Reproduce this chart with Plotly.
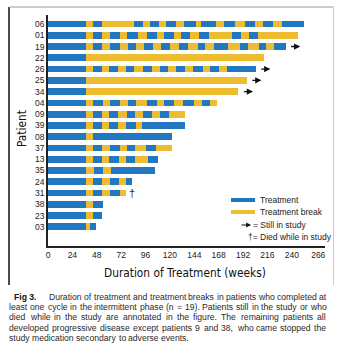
import plotly.graph_objects as go

# ---------------- data (weeks) ----------------
patients = ["06", "01", "19", "22", "26", "25", "34", "04", "09", "39",
            "08", "37", "13", "35", "24", "31", "38", "23", "03"]

# boundaries of alternating segments: treatment, break, treatment, ...
p06 = [0, 37, 44, 53, 84.4, 93.5, 100.1, 109.3, 116.4, 125.7, 133.9, 145.4, 150.6,
       165.1, 173.2, 184.4, 193.9, 204, 211.3, 221.5, 230, 252.3]
p01 = [0, 37, 44, 53, 61.3, 71.2, 77.8, 88.6, 97.4, 107.3, 114.2, 123.7, 130.9,
       139.8, 148.9, 158.2, 181.1, 190, 197.8, 206.4, 245.8]
p19 = [0, 37, 44, 53, 61, 70.6, 78.7, 86.6, 94.5, 103.6, 111.7, 120.1, 128.9, 138.1,
       147.3, 155, 163.4, 177.4, 188.6, 196.4, 207.7, 214.6, 222.4, 233.8]
p22 = [0, 37, 212.3]
p26 = [0, 37, 44, 53.4, 60.3, 69.2, 77.1, 84.9, 93.5, 102.7, 110.2, 118.4, 126.3,
       135.1, 142.5, 152.3, 159.4, 168.1, 175.9, 204.4]
p25 = [0, 37, 195.6]
p34 = [0, 37, 187.3]
p04 = [0, 37, 44, 53.8, 61.3, 71.2, 78.4, 86.3, 97.1, 107.6, 114.2, 123.7, 133.2,
       144, 151.3, 159.4, 166.1]
p09 = [0, 37, 44, 52.9, 60.3, 69.2, 77.8, 85.6, 93.2, 102.1, 110.2, 119.4, 134.6]
p39 = [0, 37, 44, 52.9, 60.3, 69.2, 77.1, 86.3, 92.2, 134.6]
p08 = [0, 37, 44.6, 121.8]
p37 = [0, 37, 44.6, 52.9, 60.7, 70.5, 77.7, 85.6, 96.2, 105.9, 121.6]
p13 = [0, 37, 44, 52.9, 60.3, 69.9, 76.8, 85.6, 98.7, 108.6]
p35 = [0, 37, 45.3, 54.4, 62, 105.3]
p24 = [0, 37, 44, 52.9, 60.7, 69.9, 77.1, 82.4]
p31 = [0, 37, 44.6, 52.9, 61.3, 70.6, 76.8]
p38 = [0, 37, 44.6, 53.8]
p23 = [0, 37, 44, 52.9]
p03 = [0, 37, 41.3, 47]
boundaries = [p06, p01, p19, p22, p26, p25, p34, p04, p09, p39,
              p08, p37, p13, p35, p24, p31, p38, p23, p03]

still_in_study = ["19", "26", "25", "34"]
died_in_study = ["31"]

x_tickvals = [0, 24, 48, 72, 96, 120, 144, 168, 192, 216, 240, 266]

caption_lines = [
    "least one cycle in the intermittent phase (n = 19). Patients still in the study or who",
    "died while in the study are annotated in the figure. The remaining patients all",
    "developed progressive disease except patients 9 and 38, who came stopped the",
    "study medication secondary to adverse events.",
]
caption_first = "Duration of treatment and treatment breaks in patients who completed at"

# ---------------- style ----------------
BLUE = "#2178C1"
YELLOW = "#EDBD2F"
W, H = 338, 353
L, R, T, B = 48, 325, 15, 246
PXW = 1.016  # px per week
FONT = "Liberation Sans, Arial, Helvetica, sans-serif"
NARROW = "DejaVu Sans Condensed, Liberation Sans Narrow, Arial Narrow, sans-serif"


def px(x):
    return (x - L) / (R - L)


def py(y):
    return (B - y) / (B - T)


def ptext(x, y, text, font, xanchor="left", **kw):
    d = dict(x=px(x), y=py(y), xref="paper", yref="paper", showarrow=False,
             xanchor=xanchor, yanchor="middle", text=text, font=font, borderpad=0)
    d.update(kw)
    return d


# ---------------- bars ----------------
tb = dict(y=[], base=[], x=[])
bb = dict(y=[], base=[], x=[])
for i, bounds in enumerate(boundaries):
    for k in range(len(bounds) - 1):
        d = tb if k % 2 == 0 else bb
        d["y"].append(i)
        d["base"].append(bounds[k])
        d["x"].append(bounds[k + 1] - bounds[k])

fig = go.Figure()
fig.add_trace(go.Bar(orientation="h", y=tb["y"], x=tb["x"], base=tb["base"],
                     width=0.6, marker=dict(color=BLUE, line=dict(width=0)),
                     name="Treatment"))
fig.add_trace(go.Bar(orientation="h", y=bb["y"], x=bb["x"], base=bb["base"],
                     width=0.6, marker=dict(color=YELLOW, line=dict(width=0)),
                     name="Treatment break"))

annotations = []
# arrows for still in study
for pid in still_in_study:
    i = patients.index(pid)
    end = boundaries[i][-1]
    annotations.append(dict(x=end + 14.5, y=i, ax=end + 4, ay=i, axref="x", ayref="y",
                            xref="x", yref="y", showarrow=True, arrowhead=2,
                            arrowsize=0.9, arrowwidth=1.4, arrowcolor="#111", text=""))
for pid in died_in_study:
    i = patients.index(pid)
    end = boundaries[i][-1]
    annotations.append(dict(x=end + 6.3, y=i, xref="x", yref="y", showarrow=False,
                            xanchor="center", yanchor="middle",
                            text="†", font=dict(family=FONT, size=11, color="#3a1c12")))

# axis titles
annotations.append(ptext(185, 273, "Duration of Treatment (weeks)",
                         dict(family=NARROW, size=11.8, color="#111"), xanchor="center"))
annotations.append(ptext(22, 129, "Patient", dict(family=NARROW, size=11.8, color="#111"),
                         xanchor="center", textangle=-90))

# legend
leg_font = dict(family=FONT, size=8.5, color="#222")
annotations.append(ptext(258.5, 200, "Treatment", leg_font))
annotations.append(ptext(258.5, 212, "Treatment break", leg_font))
annotations.append(dict(x=px(251), y=py(225), xref="paper", yref="paper", showarrow=True,
                        ax=-11, ay=0, arrowhead=2, arrowsize=0.8, arrowwidth=1.2,
                        arrowcolor="#111", text=""))
annotations.append(ptext(252, 225, "= Still in study", leg_font))
annotations.append(ptext(246.5, 237, "†= Died while in study", leg_font))

shapes = [
    dict(type="line", xref="paper", yref="paper", x0=px(231), x1=px(255), y0=py(200),
         y1=py(200), line=dict(color=BLUE, width=4)),
    dict(type="line", xref="paper", yref="paper", x0=px(231), x1=px(255), y0=py(212),
         y1=py(212), line=dict(color=YELLOW, width=4)),
    # frame
    dict(type="line", xref="paper", yref="paper", x0=px(9), x1=px(9), y0=py(7),
         y1=py(285), line=dict(color="#111", width=1.5)),
    dict(type="line", xref="paper", yref="paper", x0=px(9), x1=px(333.5), y0=py(7),
         y1=py(7), line=dict(color="#999", width=1)),
    dict(type="line", xref="paper", yref="paper", x0=px(333.5), x1=px(333.5), y0=py(7),
         y1=py(285), line=dict(color="#ccc", width=1)),
]

# ---------------- caption (justified, word by word) ----------------
AW = {'a': 556, 'b': 556, 'c': 500, 'd': 556, 'e': 556, 'f': 278, 'g': 556, 'h': 556,
      'i': 222, 'j': 222, 'k': 500, 'l': 222, 'm': 833, 'n': 556, 'o': 556, 'p': 556,
      'q': 556, 'r': 333, 's': 500, 't': 278, 'u': 556, 'v': 500, 'w': 722, 'x': 500,
      'y': 500, 'z': 500, 'F': 611, 'T': 611, 'P': 667, 'D': 722, ' ': 278, '.': 278,
      ',': 278, '(': 333, ')': 333, '=': 584}


def em(s):
    return sum(AW.get(c, 556) for c in s) / 1000.0


CL, CR = 8.3, 325.0
FIRST_X = 48.3
just = [(caption_first, FIRST_X)] + [(ln, CL) for ln in caption_lines[:3]]
fs = min(9.0, min((CR - x0) / em(t) for t, x0 in just))
cap_font = dict(family=FONT, size=fs, color="#2a2a2a")
ys = [296.8, 307.1, 317.4, 327.7, 338.0]

annotations.append(ptext(13.3, ys[0], "<b>Fig 3.</b>",
                         dict(family=FONT, size=fs, color="#111")))

all_lines = [(caption_first, FIRST_X, True)] + \
    [(ln, CL, True) for ln in caption_lines[:3]] + [(caption_lines[3], CL, False)]
for (text, x0, justify), yc in zip(all_lines, ys):
    words = text.split(" ")
    if justify:
        total_words = sum(em(w_) for w_ in words) * fs
        gap = (CR - x0 - total_words) / (len(words) - 1)
    else:
        gap = em(" ") * fs
    x = x0
    for w_ in words:
        annotations.append(ptext(x, yc, w_, cap_font))
        x += em(w_) * fs + gap

fig.update_layout(
    width=W, height=H,
    margin=dict(l=L, r=W - R, t=T, b=H - B, pad=0),
    paper_bgcolor="white", plot_bgcolor="white",
    barmode="overlay", showlegend=False, bargap=0,
    annotations=annotations, shapes=shapes,
    xaxis=dict(range=[0, (R - L) / PXW], tickvals=x_tickvals,
               ticktext=[str(v) for v in x_tickvals], showgrid=False, zeroline=False,
               showline=True, linecolor="#222", linewidth=1.5, ticks="",
               tickfont=dict(family=FONT, size=8.5, color="#222")),
    yaxis=dict(range=[19.7, -0.8], tickvals=list(range(len(patients))),
               ticktext=patients, showgrid=False, zeroline=False, showline=True,
               linecolor="#222", linewidth=1.5, ticks="",
               tickfont=dict(family=FONT, size=8.5, color="#222")),
)

fig.write_html("out.html")
